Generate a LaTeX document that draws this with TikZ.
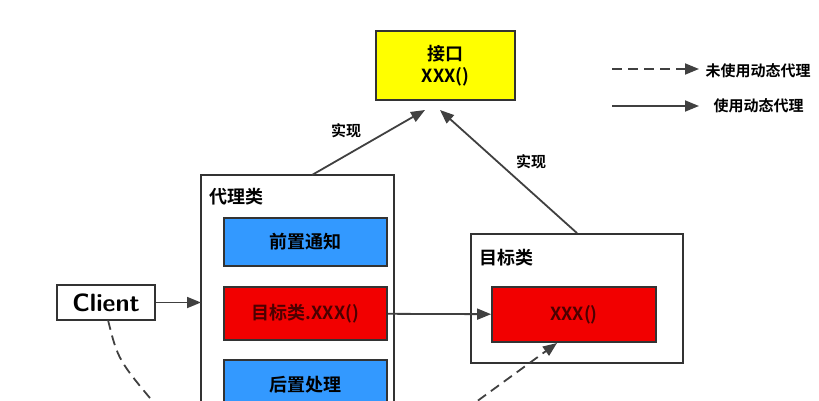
\documentclass[tikz,border=0pt]{standalone}
\usepackage{fontspec}
\setmainfont{Noto Sans CJK SC}
\newfontfamily\cjkb{Noto Sans CJK SC Bold}
\usetikzlibrary{arrows.meta}
\definecolor{ifyellow}{HTML}{FFFF00}
\definecolor{pblue}{HTML}{3399FF}
\definecolor{pred}{HTML}{F20000}
\tikzset{
  boxstyle/.style = {draw=black!80, line width=1.8pt, minimum width=#1, inner sep=0pt},
  arr/.style = {-{Triangle[length=14pt,width=11pt]}, line width=1.8pt, draw=black!75},
  lbl/.style = {font=\cjkb\fontsize{15pt}{17pt}\selectfont},
  inlbl/.style = {font=\cjkb\fontsize{18pt}{20pt}\selectfont}
}
\begin{document}
\begin{tikzpicture}[x=1pt,y=-1pt]
    \useasboundingbox (0,0) rectangle (819,400);
    % interface
    \node[boxstyle=139pt, minimum height=69pt, fill=ifyellow, align=center, font=\cjkb\fontsize{18pt}{22pt}\selectfont] (iface) at (445.5,65.5) {接口\\XXX()};
    % legend
    \coordinate (la) at (612,69); \coordinate (lb) at (699,69);
    \coordinate (lc) at (612,106); \coordinate (ld) at (699,106);
    \draw[arr, dashed, dash pattern=on 10pt off 6pt] (la) -- (lb);
    \draw[arr] (lc) -- (ld);
    \node[lbl, anchor=west] (lt1) at (702,71) {未使用动态代理};
    \node[lbl, anchor=west] (lt2) at (710,106) {使用动态代理};
    % proxy
    \draw[draw=black!80, line width=1.8pt] (201,410) |- (394,175) -- (394,410);
    \coordinate (ptop) at (312,175);
    \node[anchor=west, inlbl] (plabel) at (206,197) {代理类};
    \node[boxstyle=163pt, minimum height=48pt, fill=pblue, inlbl] (before) at (305.5,242) {前置通知};
    \node[boxstyle=163pt, minimum height=53pt, fill=pred, inlbl, text=black!70!red] (pcall) at (305.5,313.5) {目标类.XXX()};
    \node[boxstyle=163pt, minimum height=50pt, fill=pblue, inlbl] (after) at (305.5,385) {后置处理};
    % target
    \node[boxstyle=212pt, minimum height=129pt] (target) at (577,298.5) {};
    \node[anchor=west, inlbl] (tlabel) at (476,258) {目标类};
    \node[boxstyle=164pt, minimum height=55pt, fill=pred, inlbl, text=black!70!red] (tcall) at (574,314.5) {XXX()};
    % client
    \node[boxstyle=98pt, minimum height=35pt, font=\sffamily\bfseries\fontsize{25pt}{27pt}\selectfont] (client) at (106,302.5) {Client};
    \coordinate (pleft) at (201,302.5);
    \coordinate (cend) at (160,410);
    \coordinate (dstart) at (465,410);
    % arrows
    \draw[arr] (client) -- (pleft);
    \draw[arr] (pcall) -- (tcall);
    \draw[arr] (ptop) -- (425,110);
    \node[lbl] (r1) at (346,131) {实现};
    \draw[arr] (target.north) -- (440,110);
    \node[lbl] (r2) at (531,162) {实现};
    \draw[line width=1.8pt, draw=black!75, dashed, dash pattern=on 10pt off 6pt] (108,320) .. controls (118,360) .. (cend);
    \draw[arr, dashed, dash pattern=on 10pt off 6pt] (dstart) -- (557,343);
\end{tikzpicture}
\end{document}
